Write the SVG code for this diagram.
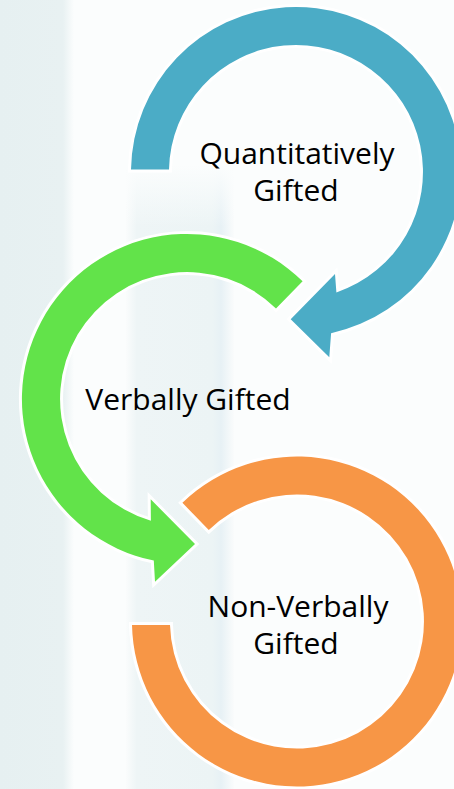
<svg xmlns="http://www.w3.org/2000/svg" width="454" height="789" viewBox="0 0 454 789">
  <defs>
    <linearGradient id="leftFade" x1="0" y1="0" x2="1" y2="0">
      <stop offset="0" stop-color="#e6f0f1"/>
      <stop offset="0.85" stop-color="#e8f1f2"/>
      <stop offset="1" stop-color="#fbfdfd"/>
    </linearGradient>
    <linearGradient id="band" x1="0" y1="0" x2="1" y2="0">
      <stop offset="0" stop-color="#fafcfc"/>
      <stop offset="0.1" stop-color="#eef5f6"/>
      <stop offset="0.8" stop-color="#ecf4f5"/>
      <stop offset="0.88" stop-color="#e7f1f5"/>
      <stop offset="1" stop-color="#fafcfc"/>
    </linearGradient>
    <linearGradient id="bandV" x1="0" y1="0" x2="0" y2="1">
      <stop offset="0" stop-color="#fbfdfd" stop-opacity="1"/>
      <stop offset="0.1" stop-color="#fbfdfd" stop-opacity="0"/>
      <stop offset="1" stop-color="#fbfdfd" stop-opacity="0"/>
    </linearGradient>
  </defs>
  <style>
    .ring { stroke: #ffffff; stroke-width: 6; stroke-linejoin: miter; paint-order: stroke; }
    .blue { fill: #4bacc6; }
    .green { fill: #62e34a; }
    .orange { fill: #f79646; }
    .label { font-family: "Open Sans", "Noto Sans", "Liberation Sans", sans-serif; font-size: 30px; fill: #000000; text-anchor: middle; }
  </style>

  <g id="background">
    <rect x="0" y="0" width="454" height="789" fill="#fbfdfd"/>
    <rect x="0" y="0" width="74" height="789" fill="url(#leftFade)"/>
    <rect x="126" y="165" width="108" height="624" fill="url(#band)"/>
    <rect x="126" y="165" width="108" height="624" fill="url(#bandV)"/>
  </g>

  <g id="node-quantitatively">
    <path class="ring blue" d="M131,169.5 A165,165 0 1 1 331.1,333.2 L329.3,357.3 L290.7,319.3 L335,274 L336.4,292.4 A127,127 0 1 0 169,169.5 Z"/>
    <text class="label" x="297" y="164">Quantitatively</text>
    <text class="label" x="296" y="201">Gifted</text>
  </g>

  <g id="node-verbally">
    <path class="ring green" d="M302.6,281.3 A165,165 0 1 0 153.8,560.6 L155,581.7 L195,544 L150.7,499.3 L150.9,520.8 A127,127 0 1 1 276,308.4 Z"/>
    <text class="label" x="188" y="410">Verbally Gifted</text>
  </g>

  <g id="node-nonverbally">
    <path class="ring orange" d="M182.4,502.8 A165,165 0 1 1 132,625 L170,625 A127,127 0 1 0 208.8,530.1 Z"/>
    <text class="label" x="298" y="617">Non-Verbally</text>
    <text class="label" x="296" y="654">Gifted</text>
  </g>

  <g id="connectors"/>
</svg>
